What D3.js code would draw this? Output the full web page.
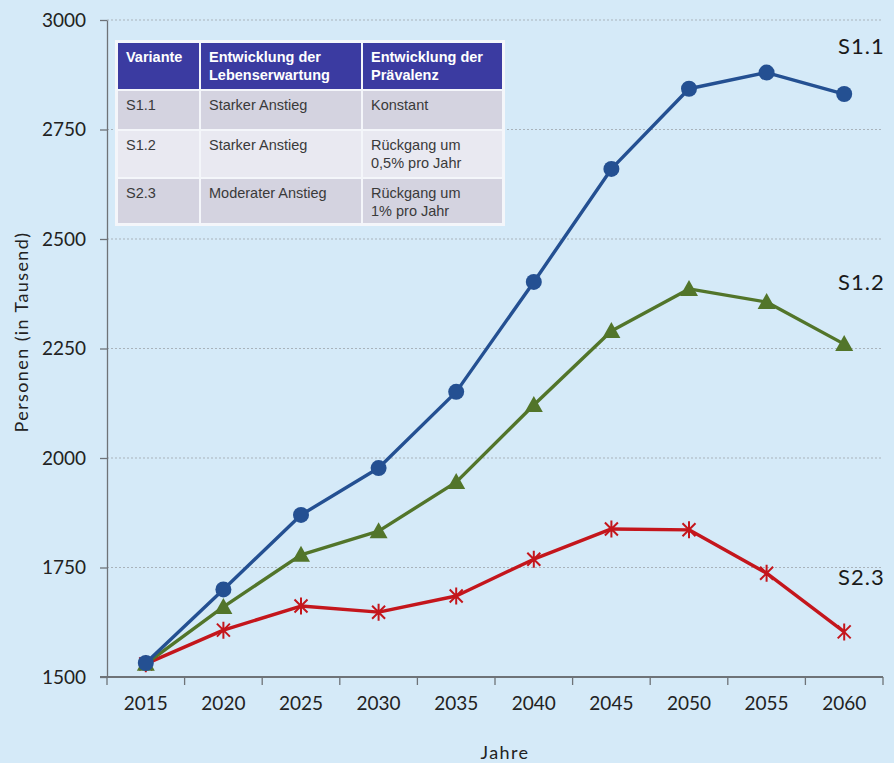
<!DOCTYPE html>
<html>
<head>
<meta charset="utf-8">
<script src="https://cdn.jsdelivr.net/npm/d3@7"></script>
<style>
  html, body { margin: 0; padding: 0; background: #d5eaf8; }
  svg { display: block; }
</style>
</head>
<body>
<svg id="chart" width="894" height="763"></svg>
<script>
// Projected number of persons (in thousands) per scenario
const years = ["2015", "2020", "2025", "2030", "2035", "2040", "2045", "2050", "2055", "2060"];
const s11 = [1532, 1700, 1870, 1977, 2151, 2402, 2660, 2843, 2880, 2831];
const s12 = [1530, 1660, 1779, 1833, 1945, 2121, 2290, 2386, 2356, 2260];
const s23 = [1530, 1607, 1662, 1648, 1685, 1769, 1838, 1836, 1737, 1603];
const seriesNames = ["S1.1", "S1.2", "S2.3"];
const yTicks = [1500, 1750, 2000, 2250, 2500, 2750, 3000];

// Scenario table
const tableHeader = ["Variante", "Entwicklung der\nLebenserwartung", "Entwicklung der\nPrävalenz"];
const tableRows = [
  ["S1.1", "Starker Anstieg", "Konstant"],
  ["S1.2", "Starker Anstieg", "Rückgang um\n0,5% pro Jahr"],
  ["S2.3", "Moderater Anstieg", "Rückgang um\n1% pro Jahr"]
];

const svg = d3.select("#chart");
const W = 894, H = 763;
const m = { left: 107, right: 11, top: 20, bottom: 86 };

svg.append("rect").attr("width", W).attr("height", H).attr("fill", "#d5eaf8");

const x = d3.scaleBand().domain(years).range([m.left, W - m.right]);
const y = d3.scaleLinear().domain([1500, 3000]).range([H - m.bottom, m.top]);

const axisFont = "Lato, 'Open Sans', sans-serif";

// horizontal grid lines
svg.append("g")
  .selectAll("line")
  .data(yTicks.slice(1))
  .join("line")
  .attr("x1", m.left).attr("x2", W - m.right)
  .attr("y1", d => y(d)).attr("y2", d => y(d))
  .attr("stroke", "#a9b3bb")
  .attr("stroke-width", 1)
  .attr("stroke-dasharray", "2,2");

// y axis
const yAxis = svg.append("g")
  .attr("transform", `translate(${m.left},0)`)
  .call(d3.axisLeft(y).tickValues(yTicks).tickFormat(d3.format("d"))
    .tickSize(7).tickPadding(14).tickSizeOuter(0));
yAxis.select(".domain").attr("stroke", "#6e7378").attr("stroke-width", 1.3);
yAxis.selectAll(".tick line").attr("stroke", "#6e7378").attr("stroke-width", 1.3);
yAxis.selectAll("text").attr("font-family", axisFont).attr("font-size", 19).attr("fill", "#222");

// x axis: ticks between categories
const xAxisG = svg.append("g").attr("transform", `translate(0,${H - m.bottom})`);
xAxisG.append("line")
  .attr("x1", m.left - 7).attr("x2", W - m.right)
  .attr("stroke", "#6e7378").attr("stroke-width", 1.8);
const bounds = years.map(d => x(d)).concat([x(years[years.length - 1]) + x.bandwidth()]);
xAxisG.selectAll("line.tk")
  .data(bounds)
  .join("line")
  .attr("class", "tk")
  .attr("x1", d => d).attr("x2", d => d)
  .attr("y1", 0).attr("y2", 8)
  .attr("stroke", "#6e7378").attr("stroke-width", 1.3);
xAxisG.selectAll("text")
  .data(years)
  .join("text")
  .attr("x", d => x(d) + x.bandwidth() / 2)
  .attr("y", 33)
  .attr("text-anchor", "middle")
  .attr("font-family", axisFont).attr("font-size", 19).attr("fill", "#222")
  .text(d => d);

// axis titles
svg.append("text")
  .attr("transform", `translate(28,332) rotate(-90)`)
  .attr("text-anchor", "middle")
  .attr("font-family", axisFont).attr("font-size", 18).attr("letter-spacing", 1.4)
  .attr("fill", "#222")
  .text("Personen (in Tausend)");
svg.append("text")
  .attr("x", 505).attr("y", 759)
  .attr("text-anchor", "middle")
  .attr("font-family", axisFont).attr("font-size", 18).attr("letter-spacing", 1.4)
  .attr("fill", "#222")
  .text("Jahre");

const cx = d => x(d) + x.bandwidth() / 2;
const line = d3.line().x((d, i) => cx(years[i])).y(d => y(d));

const series = [
  { name: seriesNames[0], values: s11, color: "#245092", marker: "circle" },
  { name: seriesNames[1], values: s12, color: "#52752a", marker: "triangle" },
  { name: seriesNames[2], values: s23, color: "#c4161c", marker: "star" }
];

// draw red first, then green, then blue on top
[series[2], series[1], series[0]].forEach(s => {
  const g = svg.append("g");
  g.append("path")
    .datum(s.values)
    .attr("d", line)
    .attr("fill", "none")
    .attr("stroke", s.color)
    .attr("stroke-width", 3.4)
    .attr("stroke-linejoin", "round");
  const pts = g.selectAll("g.pt")
    .data(s.values)
    .join("g")
    .attr("class", "pt")
    .attr("transform", (d, i) => `translate(${cx(years[i])},${y(d)})`);
  if (s.marker === "circle") {
    pts.append("circle").attr("r", 8).attr("fill", s.color);
  } else if (s.marker === "triangle") {
    pts.append("path")
      .attr("d", "M0,-9 L9,7 L-9,7 Z")
      .attr("fill", s.color);
  } else {
    pts.append("path")
      .attr("d", "M-6.5,-6.5 L6.5,6.5 M6.5,-6.5 L-6.5,6.5 M0,-8.5 L0,8.5")
      .attr("stroke", s.color).attr("stroke-width", 2).attr("fill", "none");
  }
});

// series end labels
const labelPos = [[838, 54], [838, 290], [838, 585]];
series.forEach((s, i) => {
  svg.append("text")
    .attr("x", labelPos[i][0]).attr("y", labelPos[i][1])
    .attr("font-family", axisFont).attr("font-size", 22).attr("letter-spacing", 1)
    .attr("fill", "#1a1a1a")
    .text(s.name);
});

// scenario table
const tx = 117, ty = 42;
const colW = [83, 162, 141];
const rowH = [48, 40, 48, 46];
const fills = ["#3b3ba1", "#d4d3e0", "#e9e9f1", "#d4d3e0"];
const tbl = svg.append("g").attr("font-family", "Arial, 'Liberation Sans', sans-serif");
tbl.append("rect")
  .attr("x", tx - 2).attr("y", ty - 2)
  .attr("width", d3.sum(colW) + 4).attr("height", d3.sum(rowH) + 4)
  .attr("fill", "#f4f6fa");
const allRows = [tableHeader].concat(tableRows);
let yy = ty;
allRows.forEach((row, ri) => {
  let xx = tx;
  row.forEach((cell, ci) => {
    tbl.append("rect")
      .attr("x", xx + 1).attr("y", yy + 1)
      .attr("width", colW[ci] - 2).attr("height", rowH[ri] - 2)
      .attr("fill", fills[ri]);
    const t = tbl.append("text")
      .attr("x", xx + 9).attr("y", yy + 20)
      .attr("font-size", 14.5)
      .attr("font-weight", ri === 0 ? "bold" : "normal")
      .attr("fill", ri === 0 ? "#ffffff" : "#3a3a3a");
    cell.split("\n").forEach((ln, li) => {
      t.append("tspan").attr("x", xx + 9).attr("dy", li === 0 ? 0 : 18).text(ln);
    });
    xx += colW[ci];
  });
  yy += rowH[ri];
});
</script>
</body>
</html>
